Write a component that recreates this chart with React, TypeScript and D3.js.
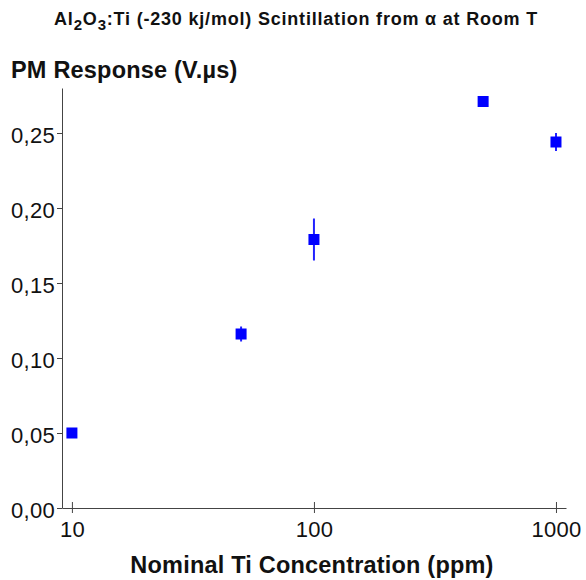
import React, { useEffect, useRef } from 'react';
import * as d3 from 'd3';

const concentrations = [10, 50, 100, 500, 1000];
const responses = [0.05, 0.116, 0.179, 0.271, 0.244];
const errors = [0.0, 0.005, 0.014, 0.0, 0.006];
const yTicks = [0, 0.05, 0.1, 0.15, 0.2, 0.25];
const xTicks = [10, 100, 1000];

export default function App() {
  const ref = useRef<SVGSVGElement>(null);

  useEffect(() => {
    if (!ref.current) return;
    const svg = d3.select(ref.current);
    svg.selectAll('*').remove();

    const font = 'Liberation Sans, Arial, sans-serif';
    const axisColor = '#444';

    const x = d3.scaleLog().domain([9.1, 1100]).range([62, 566]);
    const y = d3.scaleLinear().domain([0, 0.28]).range([508, 88]);

    // title with subscripts
    const title = svg.append('text')
      .attr('x', 296).attr('y', 25)
      .attr('text-anchor', 'middle')
      .attr('font-family', font).attr('font-weight', 'bold').attr('font-size', 18)
      .attr('letter-spacing', 0.8)
      .attr('fill', '#111');
    title.append('tspan').text('Al');
    title.append('tspan').attr('dy', 5).attr('font-size', 15).text('2');
    title.append('tspan').attr('dy', -5).text('O');
    title.append('tspan').attr('dy', 5).attr('font-size', 15).text('3');
    title.append('tspan').attr('dy', -5).text(':Ti (-230 kj/mol) Scintillation from α at Room T');

    svg.append('text')
      .attr('x', 11).attr('y', 78)
      .attr('font-family', font).attr('font-weight', 'bold').attr('font-size', 23.5)
      .attr('letter-spacing', 0.2)
      .attr('fill', '#111')
      .text('PM Response (V.µs)');

    svg.append('text')
      .attr('x', 312).attr('y', 573)
      .attr('text-anchor', 'middle')
      .attr('font-family', font).attr('font-weight', 'bold').attr('font-size', 23.5)
      .attr('letter-spacing', 0.2)
      .attr('fill', '#111')
      .text('Nominal Ti Concentration (ppm)');

    // y axis
    const yAxis = svg.append('g')
      .attr('transform', `translate(${x.range()[0]},0)`)
      .call(d3.axisLeft(y).tickValues(yTicks).tickSize(5).tickSizeOuter(0)
        .tickFormat(d => d3.format('.2f')(d as number).replace('.', ',')));
    yAxis.select('.domain').attr('stroke', axisColor);
    yAxis.selectAll('line').attr('stroke', axisColor);
    yAxis.selectAll('text')
      .attr('font-family', font).attr('font-size', 22).attr('fill', '#111')
      .attr('letter-spacing', 0.3)
      .attr('x', -7).attr('dy', '0.42em');

    // x axis
    const xAxis = svg.append('g')
      .attr('transform', `translate(0,${y(0)})`)
      .call(d3.axisBottom(x).tickValues(xTicks).tickSize(5).tickSizeOuter(0)
        .tickFormat(d => String(d)));
    xAxis.select('.domain').attr('stroke', axisColor);
    xAxis.selectAll('line').attr('stroke', axisColor).attr('y1', -6).attr('y2', 5);
    xAxis.selectAll('text')
      .attr('font-family', font).attr('font-size', 22).attr('fill', '#111')
      .attr('letter-spacing', 0.3)
      .attr('y', 13);

    const pts = concentrations.map((c, i) => ({ c, v: responses[i], e: errors[i] }));

    // error bars
    svg.append('g').selectAll('line')
      .data(pts.filter(d => d.e > 0))
      .join('line')
      .attr('x1', d => x(d.c)).attr('x2', d => x(d.c))
      .attr('y1', d => y(d.v - d.e)).attr('y2', d => y(d.v + d.e))
      .attr('stroke', '#2222ff').attr('stroke-width', 2);

    // markers
    const s = 11;
    svg.append('g').selectAll('rect')
      .data(pts)
      .join('rect')
      .attr('x', d => x(d.c) - s / 2).attr('y', d => y(d.v) - s / 2)
      .attr('width', s).attr('height', s)
      .attr('fill', '#0000ff');
  }, []);

  return (
    <svg ref={ref} width={586} height={580}
      style={{ position: 'absolute', left: 0, top: 0, background: '#fff' }} />
  );
}
